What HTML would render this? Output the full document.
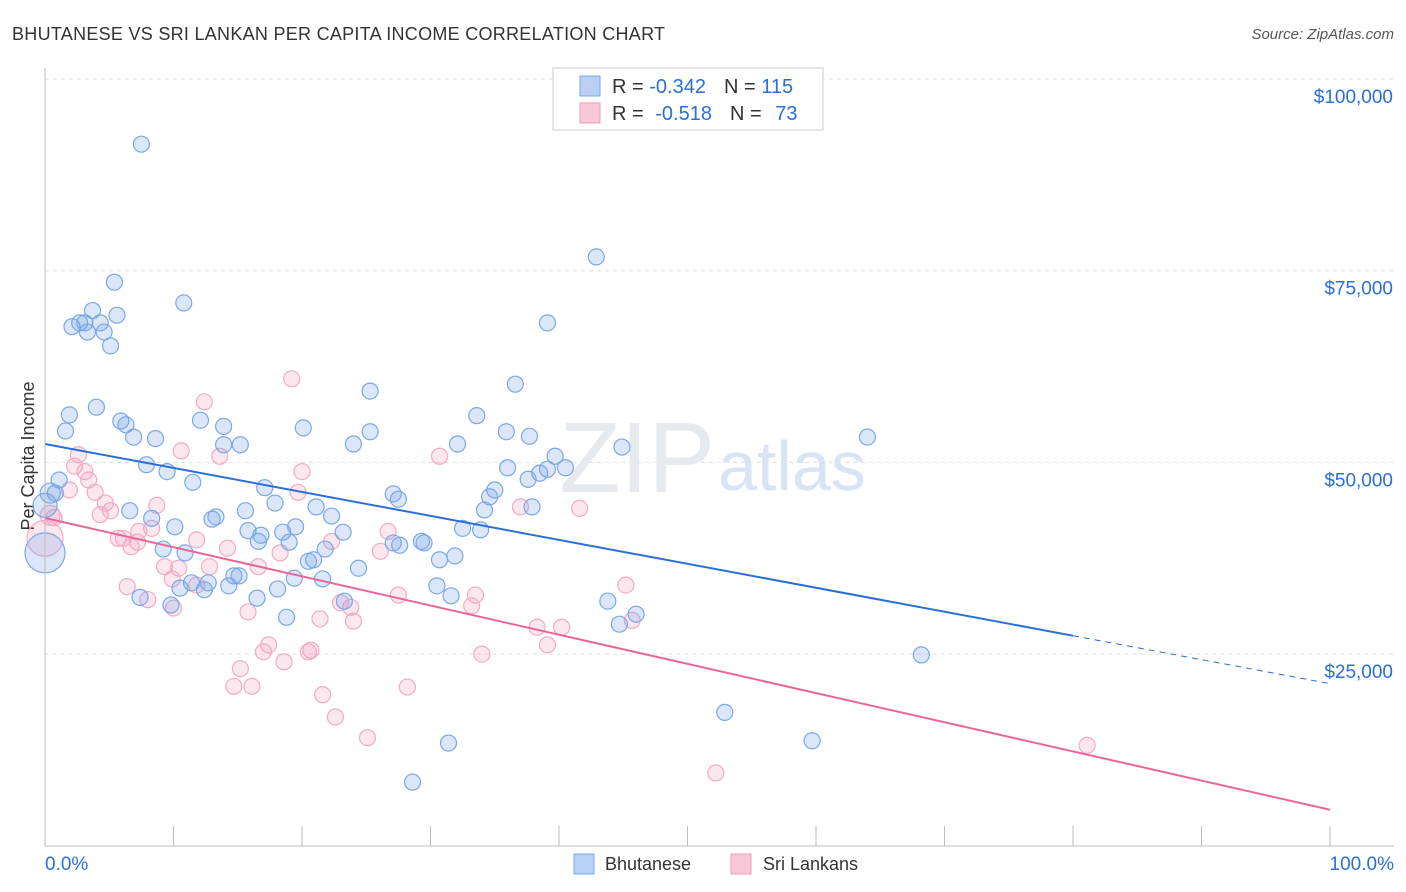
<!DOCTYPE html>
<html><head><meta charset="utf-8">
<style>
body{margin:0;background:#fff;font-family:"Liberation Sans",sans-serif;}
#wrap{position:relative;width:1406px;height:892px;overflow:hidden;}
svg text{font-family:"Liberation Sans",sans-serif;}
</style></head>
<body>
<div id="wrap">
<svg id="chart" width="1406" height="892">
  <text x="12" y="40" font-size="18" fill="#333" letter-spacing="0.28">BHUTANESE VS SRI LANKAN PER CAPITA INCOME CORRELATION CHART</text>
  <text x="1394" y="39" font-size="15" fill="#555" font-style="italic" text-anchor="end">Source: ZipAtlas.com</text>
  <text transform="translate(34,456) rotate(-90)" font-size="18" fill="#333" text-anchor="middle">Per Capita Income</text>
  <g id="grid"></g>
  <text x="715" y="492" font-size="100" fill="#e6e9ee" font-family="Liberation Serif" text-anchor="end">ZIP</text>
  <text x="718" y="490" font-size="70" fill="#d8e4f4">atlas</text>
  <g id="pts"></g>
  <g id="lines"></g>
  <g id="axes"></g>
  <g>
    <rect x="553" y="68" width="270" height="62" fill="#fff" stroke="#ccc"/>
    <rect x="580" y="76" width="20" height="20" fill="#b8d0f4" stroke="#7aa6e6"/>
    <rect x="580" y="103" width="20" height="20" fill="#f8c8d8" stroke="#ef9bb8"/>
    <text x="612" y="93" font-size="20" fill="#333">R = <tspan fill="#2a6fd6">-0.342</tspan><tspan dx="18">N = </tspan><tspan fill="#2a6fd6">115</tspan></text>
    <text x="612" y="120" font-size="20" fill="#333">R = <tspan dx="6" fill="#2a6fd6">-0.518</tspan><tspan dx="18">N = </tspan><tspan dx="8" fill="#2a6fd6">73</tspan></text>
  </g>
  <g>
    <rect x="574" y="854" width="20" height="20" fill="#b8d0f4" stroke="#7aa6e6"/>
    <text x="605" y="870" font-size="18" fill="#333">Bhutanese</text>
    <rect x="731" y="854" width="20" height="20" fill="#f8c8d8" stroke="#ef9bb8"/>
    <text x="763" y="870" font-size="18" fill="#333">Sri Lankans</text>
  </g>
</svg>
</div>
<script>
const blueX=[7.5,42.9,5.4,10.8,3.7,5.6,2.1,2.7,3.1,4.3,3.3,4.6,5.1,39.1,36.6,25.3,4.0,1.9,5.9,6.3,12.1,13.9,20.1,1.6,6.9,8.6,15.2,13.9,25.3,24.0,33.6,35.9,37.7,32.1,44.9,64.0,7.9,9.5,11.5,1.1,0.8,17.1,27.1,27.5,36.0,39.7,40.5,39.1,38.5,37.6,35.0,34.6,34.2,37.9,6.6,8.3,13.0,13.3,15.6,17.9,21.1,22.3,10.1,15.8,16.8,18.5,19.5,21.8,19.0,16.6,23.2,32.5,33.9,27.1,27.6,29.3,29.5,9.2,10.9,30.7,31.9,20.5,20.9,24.4,14.7,15.1,19.4,21.6,11.4,12.7,10.5,12.4,18.1,14.3,30.5,31.6,7.4,16.5,23.3,43.8,46.0,44.7,9.8,18.8,68.2,52.9,59.7,31.4,28.6,0,0,0.4];
const blueY=[91.5,76.8,73.5,70.8,69.8,69.2,67.7,68.2,68.2,68.2,67.0,67.0,65.2,68.2,60.2,59.3,57.2,56.2,55.4,54.9,55.5,54.7,54.5,54.1,53.3,53.1,52.3,52.3,54.0,52.4,56.1,54.0,53.4,52.4,52.0,53.3,49.7,48.8,47.4,47.7,46.0,46.7,45.9,45.2,49.3,50.8,49.3,49.1,48.6,47.8,46.4,45.5,43.8,44.2,43.7,42.7,42.6,42.9,43.7,44.7,44.2,43.0,41.6,41.1,40.5,40.9,41.6,38.7,39.6,39.7,40.9,41.4,41.2,39.5,39.2,39.7,39.5,38.7,38.2,37.3,37.8,37.1,37.3,36.2,35.2,35.2,34.9,34.8,34.3,34.3,33.6,33.4,33.5,33.9,33.9,32.6,32.4,32.3,31.9,31.9,30.2,28.9,31.4,29.8,24.9,17.4,13.7,13.4,8.3,38.2,44.4,46.0];
const blueR=[8,8,8,8,8,8,8,8,8,8,8,8,8,8,8,8,8,8,8,8,8,8,8,8,8,8,8,8,8,8,8,8,8,8,8,8,8,8,8,8,8,8,8,8,8,8,8,8,8,8,8,8,8,8,8,8,8,8,8,8,8,8,8,8,8,8,8,8,8,8,8,8,8,8,8,8,8,8,8,8,8,8,8,8,8,8,8,8,8,8,8,8,8,8,8,8,8,8,8,8,8,8,8,8,8,8,8,8,8,20,12,10];
const pinkX=[19.2,12.4,10.6,13.6,30.7,2.6,2.3,3.1,3.4,20.0,1.9,3.9,19.7,4.7,8.7,37.0,41.6,4.3,5.1,0.7,8.3,7.3,5.7,6.1,7.2,6.7,11.8,26.7,14.2,18.3,26.1,22.3,9.3,10.4,12.8,16.6,9.9,11.8,6.4,45.2,27.5,33.5,8.0,10.0,23.0,23.8,33.2,15.8,24.0,21.4,45.7,38.3,40.2,39.1,17.4,17.0,20.7,20.5,34.0,18.6,15.2,14.7,16.1,28.2,21.6,22.6,25.1,81.1,52.2,0,0.4];
const pinkY=[60.9,57.9,51.5,50.8,50.8,51.0,49.5,48.8,47.7,48.8,46.4,46.1,46.1,44.7,44.4,44.2,44.0,43.2,43.7,42.8,41.4,41.0,40.1,40.1,39.6,39.0,39.9,41.0,38.8,38.2,38.4,39.7,36.4,36.2,36.4,36.4,34.8,34.0,33.8,34.0,32.7,32.7,32.1,31.0,31.7,31.1,31.3,30.5,29.3,29.6,29.4,28.5,28.5,26.2,26.2,25.3,25.5,25.3,25.0,24.0,23.1,20.8,20.8,20.7,19.7,16.8,14.1,13.1,9.5,40.1,43.1];
const pinkR=[8,8,8,8,8,8,8,8,8,8,8,8,8,8,8,8,8,8,8,8,8,8,8,8,8,8,8,8,8,8,8,8,8,8,8,8,8,8,8,8,8,8,8,8,8,8,8,8,8,8,8,8,8,8,8,8,8,8,8,8,8,8,8,8,8,8,8,8,8,18,10];
const blueTrend=[52.4,27.4,80];
const pinkTrend=[42.75,4.7];
const yTicks=[25,50,75,100];
const yTickLabels=["$25,000","$50,000","$75,000","$100,000"];
const xTicks=[0,10,20,30,40,50,60,70,80,90,100];

const NS="http://www.w3.org/2000/svg";
const xs=v=>45+v*12.85;
const ys=v=>79+(100-v)*7.668;
function mk(tag,attrs,parent){const e=document.createElementNS(NS,tag);for(const k in attrs)e.setAttribute(k,attrs[k]);parent.appendChild(e);return e;}
const grid=document.getElementById('grid'),axes=document.getElementById('axes'),pts=document.getElementById('pts'),lines=document.getElementById('lines');
yTicks.forEach((t,i)=>{
  const l=mk('line',{x1:45,x2:1394,y1:ys(t),y2:ys(t),stroke:'#ddd','stroke-dasharray':'4,4'},grid);
  
  
  const tx=mk('text',{x:1393,y:ys(t)+24,'font-size':19,fill:'#2a6fd6','text-anchor':'end'},axes);
  tx.textContent=yTickLabels[i];
  
  
});
const ax=mk('line',{x1:45,x2:1394,y1:846,y2:846,stroke:'#bbb'},axes);


const ay=mk('line',{x1:45,x2:45,y1:68,y2:846,stroke:'#bbb'},axes);


xTicks.forEach(t=>{
  const l=mk('line',{x1:xs(t),x2:xs(t),y1:826,y2:846,stroke:'#bbb'},axes);
  
  
});
const x0=mk('text',{x:45,y:870,'font-size':19,fill:'#2a6fd6'},axes);x0.textContent="0.0%";


const x1=mk('text',{x:1394,y:870,'font-size':19,fill:'#2a6fd6','text-anchor':'end'},axes);x1.textContent="100.0%";



pinkX.forEach((v,i)=>{
  const c=mk('circle',{cx:xs(v),cy:ys(pinkY[i]),r:pinkR[i],fill:'rgba(244,160,190,0.25)',stroke:'#f2aac4','stroke-width':1.2},pts);
  
  
});
blueX.forEach((v,i)=>{
  const c=mk('circle',{cx:xs(v),cy:ys(blueY[i]),r:blueR[i],fill:'rgba(110,160,230,0.25)',stroke:'#7aa8e6','stroke-width':1.2},pts);
  
  
});
const bslope=(blueTrend[1]-blueTrend[0])/blueTrend[2];
const bl=mk('line',{x1:xs(0),y1:ys(blueTrend[0]),x2:xs(blueTrend[2]),y2:ys(blueTrend[1]),stroke:'#2a6fd6','stroke-width':2},lines);


const bd=mk('line',{x1:xs(blueTrend[2]),y1:ys(blueTrend[1]),x2:xs(100),y2:ys(blueTrend[0]+bslope*100),stroke:'#2a6fd6','stroke-width':1,'stroke-dasharray':'6,5'},lines);


const pl=mk('line',{x1:xs(0),y1:ys(pinkTrend[0]),x2:xs(100),y2:ys(pinkTrend[1]),stroke:'#e8679a','stroke-width':2},lines);


</script>
</body></html>
